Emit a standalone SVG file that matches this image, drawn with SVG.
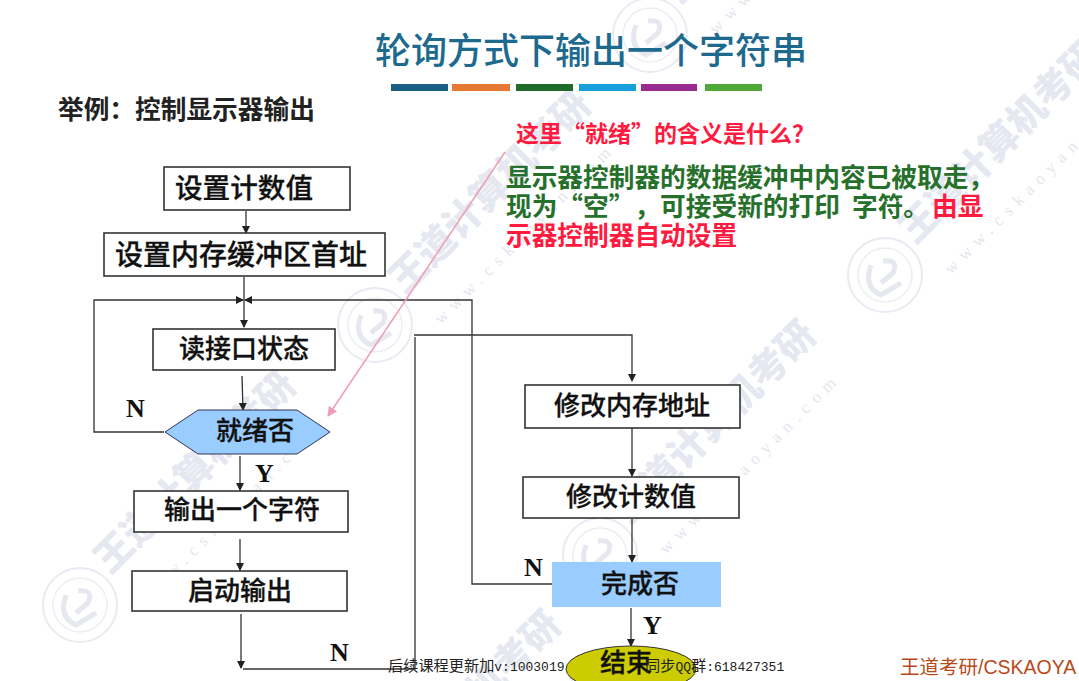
<svg xmlns="http://www.w3.org/2000/svg" width="1079" height="681" viewBox="0 0 1079 681">
<style>
text{font-family:"Noto Sans CJK SC","Liberation Sans",sans-serif;text-spacing-trim:space-all}
.b{fill:#fff;stroke:#333;stroke-width:1.6}
.t{font-size:26px;font-weight:500;fill:#111;text-anchor:middle;stroke:#111;stroke-width:.3}
.l{font-family:"Liberation Serif",serif;font-size:26px;font-weight:700;fill:#111}
.c{fill:none;stroke:#333;stroke-width:1.3}
.g{font-size:25.7px;font-weight:700;fill:#26702c}
.r{font-size:25.7px;font-weight:700;fill:#ff1a40}
.wm{font-size:38px;font-weight:900;fill:#e6e8f1}
.ws{font-size:17px;fill:#e4e6ee;letter-spacing:7px;font-family:"Liberation Serif",serif}
.bar{stroke:none}
.f{font-size:15.2px;fill:#222}
.f tspan{font-family:"Liberation Mono",monospace;font-size:13px}
</style>
<defs>
<marker id="a" markerWidth="9" markerHeight="9" refX="7" refY="4" orient="auto" markerUnits="userSpaceOnUse"><path d="M0 0L8 4L0 8z" fill="#222"/></marker>
<marker id="p" markerWidth="12" markerHeight="12" refX="9" refY="5" orient="auto" markerUnits="userSpaceOnUse"><path d="M0 0L10 5L0 10z" fill="#ee9db5"/></marker>
<g id="w">
<circle r="37" fill="none" stroke="#e9ebf2" stroke-width="2"/>
<circle r="27" fill="none" stroke="#eceef4" stroke-width="1.5"/>
<path d="M-14 -10Q-22 12 -4 20L16 8M-2 -14Q14 -16 8 -2L-4 8" fill="none" stroke="#e6e8f0" stroke-width="5"/>
<text class="wm" transform="translate(30,-30) rotate(-45)">王道计算机考研</text>
<text class="ws" transform="translate(66,0) rotate(-45)">www.cskaoyan.com</text>
</g>
</defs>
<rect width="1079" height="681" fill="#fff"/>
<g id="watermark">
<use href="#w" x="80" y="605"/><use href="#w" x="375" y="325"/><use href="#w" x="650" y="35"/><use href="#w" x="600" y="555"/><use href="#w" x="885" y="275"/><use href="#w" x="345" y="845"/>
</g>
<g id="title">
<text x="591" y="64" font-size="36" font-weight="500" fill="#1d6a8e" text-anchor="middle">轮询方式下输出一个字符串</text>
<rect class="bar" x="391" y="84" width="57" height="7" fill="#1b5e85"/>
<rect class="bar" x="452" y="84" width="58" height="7" fill="#e67a35"/>
<rect class="bar" x="516" y="84" width="57" height="7" fill="#1f6b2a"/>
<rect class="bar" x="579" y="84" width="57" height="7" fill="#18a0dc"/>
<rect class="bar" x="641" y="84" width="56" height="7" fill="#982a90"/>
<rect class="bar" x="705" y="84" width="57" height="7" fill="#50a838"/>
<text x="58" y="119" font-size="25.7" font-weight="700" fill="#222">举例：控制显示器输出</text>
</g>
<g id="notes">
<text x="516" y="142" font-size="23" font-weight="700" fill="#ff1a40">这里“就绪”的含义是什么？</text>
<text class="g" x="506" y="187">显示器控制器的数据缓冲中内容已被取走，</text>
<text class="g" x="506" y="216">现为“空”，可接受新的打印 <tspan x="852">字符。</tspan><tspan x="932" fill="#ff1a40">由显</tspan></text>
<text class="r" x="506" y="245">示器控制器自动设置</text>
</g>
<g id="connectors">
<path class="c" d="M246 211V233" marker-end="url(#a)"/>
<path class="c" d="M244 277V327" marker-end="url(#a)"/>
<path class="c" d="M164 432H94V300H243" marker-end="url(#a)"/>
<path class="c" d="M472 432V300H245" marker-end="url(#a)" stroke-width="1.3"/>
<path class="c" d="M242 376L243 410" marker-end="url(#a)"/>
<path class="c" d="M240 456V490" marker-end="url(#a)"/>
<path class="c" d="M240 539V570" marker-end="url(#a)"/>
<path class="c" d="M241 614V668" marker-end="url(#a)"/>
<path class="c" d="M243 669H415V337"/>
<path class="c" d="M414 335H632V381" marker-end="url(#a)"/>
<path class="c" d="M632 428V476" marker-end="url(#a)"/>
<path class="c" d="M632 519V562" marker-end="url(#a)"/>
<path class="c" d="M552 584H472V432"/>
<path class="c" d="M631 608V646" marker-end="url(#a)"/>
<path d="M505 152L328 416" fill="none" stroke="#ee9db5" stroke-width="1.5" marker-end="url(#p)"/>
</g>
<g id="n1"><rect class="b" x="164" y="167" width="186" height="43"/><text class="t" x="244" y="198" style="font-size:27.6px">设置计数值</text></g>
<g id="n2"><rect class="b" x="104" y="233" width="281" height="43"/><text class="t" x="241" y="265" style="font-size:28px">设置内存缓冲区首址</text></g>
<g id="n3"><rect class="b" x="153" y="329" width="182" height="41"/><text class="t" x="244" y="358">读接口状态</text></g>
<g id="n4"><path d="M165 432L198 410H297L330 432L297 454H198z" fill="#99ccff" stroke="#335" stroke-width="1"/><text class="t" x="255" y="440">就绪否</text></g>
<g id="n5"><rect class="b" x="134" y="491" width="214" height="41"/><text class="t" x="242" y="519">输出一个字符</text></g>
<g id="n6"><rect class="b" x="132" y="571" width="215" height="40"/><text class="t" x="240" y="600">启动输出</text></g>
<g id="n7"><rect class="b" x="525" y="385" width="215" height="43"/><text class="t" x="632" y="415">修改内存地址</text></g>
<g id="n8"><rect class="b" x="523" y="477" width="216" height="41"/><text class="t" x="631" y="506">修改计数值</text></g>
<g id="n9"><rect x="552" y="562" width="169" height="45" fill="#99ccff"/><text class="t" x="640" y="593">完成否</text></g>
<g id="n10"><ellipse cx="631" cy="669" rx="65" ry="23" fill="#cccc00" stroke="#333" stroke-width="1"/><text class="t" x="626" y="672">结束</text></g>
<g id="labels">
<text class="l" x="126" y="417">N</text>
<text class="l" x="255" y="482">Y</text>
<text class="l" x="330" y="661">N</text>
<text class="l" x="524" y="576">N</text>
<text class="l" x="643" y="634">Y</text>
</g>
<g id="footer">
<text class="f" x="388" y="671">后续课程更新加<tspan>v:1003019</tspan></text>
<text class="f" x="645" y="671">同步<tspan>QQ</tspan>群<tspan>:618427351</tspan></text>
<text x="900" y="674" font-size="19.5" fill="#b84a1a" style="font-family:'Liberation Sans','Noto Sans CJK SC',sans-serif">王道考研/CSKAOYA</text>
</g>
</svg>
